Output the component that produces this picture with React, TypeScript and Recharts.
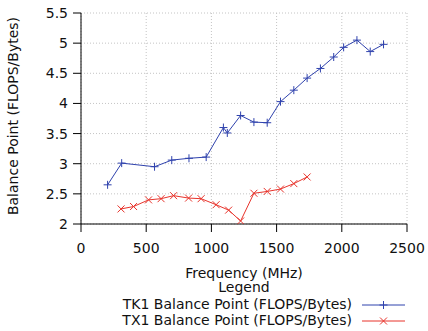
import React from "react";
import {
  LineChart,
  Line,
  XAxis,
  YAxis,
  CartesianGrid,
} from "recharts";

// CPU frequency steps (MHz) and measured balance points
const tk1Freq = [204, 312, 564, 696, 828, 960, 1092, 1122, 1224, 1326, 1428, 1530, 1632, 1734, 1836, 1938, 2014, 2116, 2218, 2320];
const tk1Balance = [2.65, 3.01, 2.95, 3.06, 3.09, 3.11, 3.6, 3.51, 3.8, 3.69, 3.68, 4.03, 4.22, 4.42, 4.58, 4.77, 4.93, 5.05, 4.86, 4.98];

const tx1Freq = [307, 403, 518, 614, 710, 825, 921, 1036, 1132, 1224, 1326, 1428, 1530, 1632, 1734];
const tx1Balance = [2.25, 2.29, 2.4, 2.42, 2.47, 2.43, 2.42, 2.32, 2.23, 2.05, 2.51, 2.54, 2.58, 2.67, 2.78];

const xTicks = [0, 500, 1000, 1500, 2000, 2500];
const yTicks = [2, 2.5, 3, 3.5, 4, 4.5, 5, 5.5];

const tk1Label = "TK1 Balance Point (FLOPS/Bytes)";
const tx1Label = "TX1 Balance Point (FLOPS/Bytes)";

const tk1Data = tk1Freq.map((f, i) => ({ f, v: tk1Balance[i] }));
const tx1Data = tx1Freq.map((f, i) => ({ f, v: tx1Balance[i] }));

const BLUE = "#2f42ad";
const RED = "#e8332b";
const FONT = "'DejaVu Sans', sans-serif";
const FS = 14;

const PlusMark = ({ cx, cy, color }: { cx: number; cy: number; color: string }) => (
  <g stroke={color} strokeWidth={1}>
    <line x1={cx - 4} y1={cy} x2={cx + 4} y2={cy} />
    <line x1={cx} y1={cy - 4} x2={cx} y2={cy + 4} />
  </g>
);

const CrossMark = ({ cx, cy, color }: { cx: number; cy: number; color: string }) => (
  <g stroke={color} strokeWidth={1}>
    <line x1={cx - 3.5} y1={cy - 3.5} x2={cx + 3.5} y2={cy + 3.5} />
    <line x1={cx - 3.5} y1={cy + 3.5} x2={cx + 3.5} y2={cy - 3.5} />
  </g>
);

const tickStyle = { fontSize: FS, fontFamily: FONT, fill: "#111" };
const blank = () => "";

export default function App() {
  return (
    <div style={{ position: "absolute", left: 0, top: 0, width: 428, height: 331, background: "#fff" }}>
      <LineChart
        width={428}
        height={331}
        margin={{ top: 13, right: 21, bottom: 77, left: 0 }}
      >
        <CartesianGrid stroke="#c4c4c4" strokeDasharray="1 2" />
        <XAxis
          dataKey="f"
          type="number"
          domain={[0, 2500]}
          ticks={xTicks}
          height={30}
          tickSize={8}
          tickMargin={11}
          tick={tickStyle}
          stroke="#000"
          allowDataOverflow
          label={{
            content: ({ viewBox }: any) => (
              <text
                x={viewBox.x + viewBox.width / 2}
                y={278}
                textAnchor="middle"
                fontSize={FS}
                fontFamily={FONT}
                fill="#111"
              >
                Frequency (MHz)
              </text>
            ),
          }}
        />
        <XAxis
          xAxisId="top"
          orientation="top"
          type="number"
          domain={[0, 2500]}
          ticks={xTicks}
          height={0}
          tickSize={8}
          tickFormatter={blank}
          stroke="#000"
        />
        <YAxis
          type="number"
          domain={[2, 5.5]}
          ticks={yTicks}
          width={81}
          tickSize={8}
          tickMargin={5}
          tick={tickStyle}
          stroke="#000"
          allowDataOverflow
          label={{
            content: () => (
              <text
                x={13}
                y={116}
                transform="rotate(-90 13 116)"
                textAnchor="middle"
                dominantBaseline="central"
                fontSize={FS}
                fontFamily={FONT}
                fill="#111"
              >
                Balance Point (FLOPS/Bytes)
              </text>
            ),
          }}
        />
        <YAxis
          yAxisId="right"
          orientation="right"
          type="number"
          domain={[2, 5.5]}
          ticks={yTicks}
          width={0}
          tickSize={8}
          tickFormatter={blank}
          stroke="#000"
        />
        <Line
          data={tk1Data}
          dataKey="v"
          name={tk1Label}
          stroke={BLUE}
          strokeWidth={1}
          isAnimationActive={false}
          dot={(p: any) => <PlusMark key={`tk1-${p.index}`} cx={p.cx} cy={p.cy} color={BLUE} />}
        />
        <Line
          data={tx1Data}
          dataKey="v"
          name={tx1Label}
          stroke={RED}
          strokeWidth={1}
          isAnimationActive={false}
          dot={(p: any) => <CrossMark key={`tx1-${p.index}`} cx={p.cx} cy={p.cy} color={RED} />}
        />
      </LineChart>
      <svg
        width={428}
        height={331}
        style={{ position: "absolute", left: 0, top: 0, pointerEvents: "none" }}
      >
        <g fontSize={FS} fontFamily={FONT} fill="#111">
          <text x={244} y={292} textAnchor="middle">Legend</text>
          <text x={352} y={309} textAnchor="end">{tk1Label}</text>
          <text x={352} y={325} textAnchor="end">{tx1Label}</text>
        </g>
        <line x1={362} y1={305} x2={405} y2={305} stroke={BLUE} strokeWidth={1} />
        <PlusMark cx={383.5} cy={305} color={BLUE} />
        <line x1={362} y1={321} x2={405} y2={321} stroke={RED} strokeWidth={1} />
        <CrossMark cx={383.5} cy={321} color={RED} />
      </svg>
    </div>
  );
}
